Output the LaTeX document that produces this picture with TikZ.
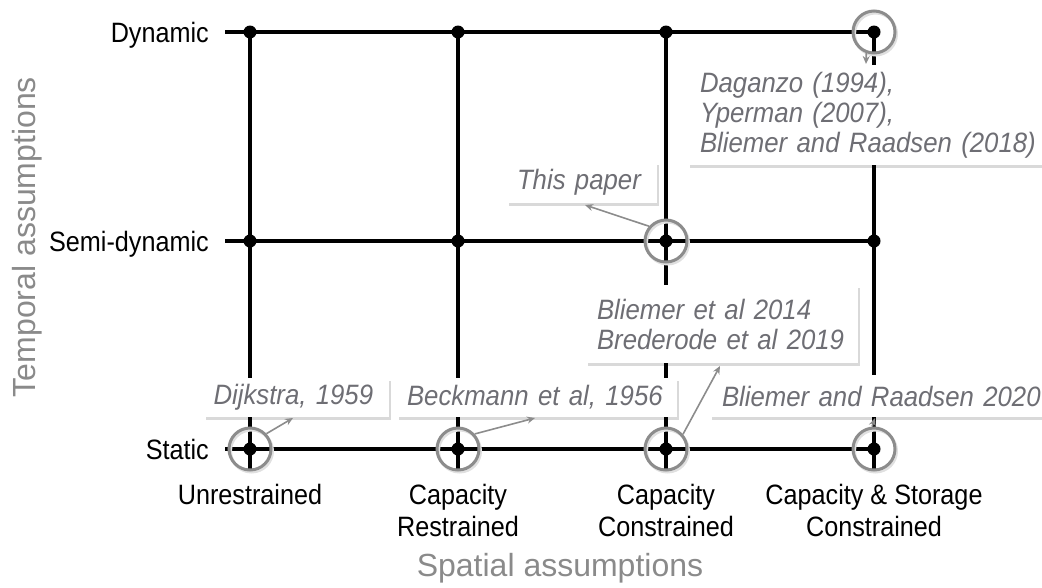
\documentclass[tikz,border=0pt]{standalone}
\usepackage{fontspec}
\setmainfont{Liberation Sans}
\newfontfamily\lblfont[FakeStretch=0.9]{Liberation Sans}
\newfontfamily\reffont[FakeStretch=0.92]{Liberation Sans}
\usetikzlibrary{arrows.meta, shadows}
\definecolor{axisgray}{RGB}{138,138,138}
\definecolor{refgray}{RGB}{110,110,116}
\definecolor{ringgray}{RGB}{140,140,140}

\begin{document}
\begin{tikzpicture}[x=1pt, y=-1pt,
    gridline/.style={line width=4pt, black},
    junction/.style={circle, fill=black, inner sep=0pt, minimum size=13pt},
    ring/.style={circle, draw=ringgray, line width=3pt, inner sep=0pt, minimum size=42pt},
    ringshade/.style={circle, draw=black!12, line width=3pt, inner sep=0pt, minimum size=42pt},
    refbox/.style={rectangle, fill=white, inner xsep=12pt, inner ysep=0pt, align=left, text=refgray, font=\reffont\itshape\fontsize{28}{30}\selectfont, drop shadow={shadow xshift=2pt, shadow yshift=-3pt, fill=black, opacity=0.15}},
    refarrow/.style={-{Stealth[length=8pt, width=7pt]}, line width=1.6pt, ringgray},
    rowlabel/.style={anchor=base east, inner sep=0pt, font=\lblfont\fontsize{28}{32}\selectfont},
    collabel/.style={anchor=north, inner sep=0pt, align=center, font=\lblfont\fontsize{28}{32}\selectfont},
    axislabel/.style={inner sep=0pt, text=axisgray, font=\fontsize{32}{36}\selectfont}
]
    \useasboundingbox (0,0) rectangle (1042,587);

    % Grid
    \foreach \y in {32,241,449}
        \draw[gridline] (225,\y) -- (874,\y);
    \foreach \x in {250,458,666,874}
        \draw[gridline] (\x,32) -- (\x,473);
    \foreach \x [count=\i] in {250,458,666,874}
        \foreach \y [count=\j] in {32,241,449}
            \node[junction] (j\i\j) at (\x,\y) {};

    % Axis labels
    \node[axislabel, rotate=90] (temporal) at (27,237) {Temporal assumptions};
    \node[axislabel] (spatial) at (560,568) {Spatial assumptions};

    \node[rowlabel] (dynamic) at (209,42) {Dynamic};
    \node[rowlabel] (semi) at (209,251) {Semi-dynamic};
    \node[rowlabel] (static) at (209,459) {Static};

    \node[collabel] (unres) at (250,484) {Unrestrained};
    \node[collabel] (capres) at (458,484) {Capacity\\Restrained};
    \node[collabel] (capcon) at (666,484) {Capacity\\Constrained};
    \node[collabel] (capsto) at (874,484) {Capacity \& Storage\\Constrained};

    % References
    \node[refbox, text width=165pt, minimum height=39pt, inner xsep=10pt] (dijkstra) at (296,397.5) {Dijkstra, 1959};
    \node[refbox, text width=260pt, minimum height=39pt, inner xsep=10pt] (beckmann) at (537,397.5) {Beckmann et al, 1956};
    \node[refbox, text width=250pt, minimum height=78pt, inner xsep=11pt] (bliemer) at (722,324) {Bliemer et al 2014\\Brederode et al 2019};
    \node[refbox, text width=320pt, minimum height=42pt] (raadsen) at (882,396) {Bliemer and Raadsen 2020};
    \node[refbox, text width=130pt, minimum height=41pt, inner xsep=10pt] (paper) at (582,182.5) {This paper};
    \node[refbox, text width=340pt, minimum height=100pt] (daganzo) at (870,115) {Daganzo (1994),\\Yperman (2007),\\Bliemer and Raadsen (2018)};

    % Rings
    \foreach \x/\y/\n in {250/449/r1, 458/449/r2, 666/449/r3, 874/449/r4, 666/241/r5, 874/32/r6} {
        \node[ringshade] at (\x+1.5,\y+2) {};
        \node[ring] (\n) at (\x,\y) {};
    }

    % Pointers
    \coordinate (dijtip) at (293,418);
    \coordinate (becktip) at (535,418);
    \coordinate (blitip) at (720,366);
    \coordinate (raadtip) at (875,418);
    \coordinate (papertip) at (585,205);
    \coordinate (dagtip) at (866,64);
    \draw[refarrow] (r1.43) -- (dijtip);
    \draw[refarrow] (r2.42) -- (becktip);
    \draw[refarrow] (r3.41) -- (blitip);
    \draw[refarrow] (r4.95) -- (raadtip);
    \draw[refarrow] (r5.139) -- (papertip);
    \draw[refarrow] (r6.250) -- (dagtip);
\end{tikzpicture}
\end{document}
